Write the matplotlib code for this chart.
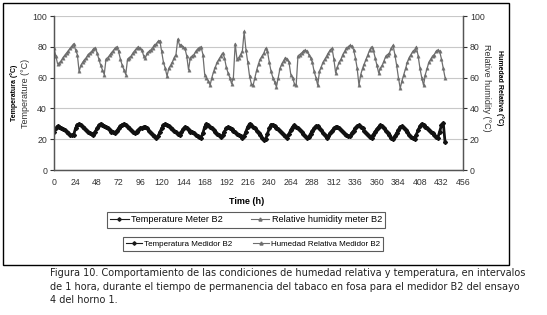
import matplotlib.pyplot as plt
from matplotlib.lines import Line2D
from matplotlib.patches import Rectangle
import numpy as np

plt.rcParams['font.family'] = ['Liberation Sans', 'DejaVu Sans']

# hours, every 2 h (0 .. 436)
hours = list(range(0, 438, 2))

temperature = [
    25, 27, 28.5, 28, 27.5, 26.5, 26, 25, 24, 23, 22.5, 23,
    27, 29.5, 30, 29, 28, 27, 26, 25, 24, 23.5, 23, 25,
    27, 29, 30, 29.5, 28.5, 28, 27, 26, 25, 24.5, 24, 25.5,
    27, 28.5, 29.5, 30, 29, 28, 27, 26, 25, 24, 25, 26,
    27, 27.5, 28, 28, 27, 25.5, 24, 23, 22, 21, 22, 24.5,
    27, 29, 30, 29.5, 28.5, 27.5, 26.5, 25.5, 24.5, 23.5, 23, 24.5,
    26.5, 28, 27.5, 26, 25, 24.5, 24, 23, 22, 21.5, 21, 24,
    28, 30, 29, 28, 27, 26, 25, 23.5, 22.5, 21.5, 22.5, 25,
    27, 28, 27.5, 26.5, 25.5, 24.5, 23.5, 23, 22, 21, 22, 25,
    28, 30, 29.5, 28, 27, 25.5, 24, 22.5, 21, 19.5, 20, 23.5,
    27, 29.5, 29.5, 28.5, 27.5, 26.5, 25.5, 24, 23, 22, 21, 23.5,
    26, 28, 29, 28, 27, 26, 25, 23.5, 22, 21, 21.5, 23.5,
    25.5, 27, 28.5, 28.5, 27.5, 26, 24, 22.5, 21, 22, 24, 25.5,
    27, 28, 28, 27.5, 26, 25, 23.5, 22.5, 22, 22, 24, 25.5,
    27, 28.5, 29, 28, 27, 25.5, 24, 22.5, 21.5, 21, 23, 25,
    26.5, 28, 29, 28.5, 27, 25.5, 24, 22.5, 21, 20, 22, 24,
    26, 28, 28.5, 27.5, 26, 24.5, 23, 21.5, 20.5, 20, 23, 26,
    28.5, 30, 29, 28, 27, 26, 25, 24, 22.5, 21.5, 21, 25,
    29, 30.5, 18,
]

humidity = [
    79, 74, 69, 69.5, 71, 73, 74.5, 76, 77.5, 79, 80.5, 82,
    78, 75, 64, 68, 70, 71.5, 73, 75, 76, 77, 78.5, 79.5,
    76, 72, 68, 65, 62, 72, 73, 74.5, 76, 77.5, 79, 80,
    77, 72, 68, 65, 62, 72, 73, 74, 76, 77.5, 79, 80,
    79, 78, 74, 73, 76, 77, 78, 79.5, 81, 82, 83.5, 84,
    77, 70, 66, 61, 66, 68, 70, 73, 75, 85, 81, 81,
    80, 79, 74, 65, 73, 74, 75, 77, 78.5, 79.5, 80, 75,
    62, 60, 58, 55, 60, 64, 67, 70, 72, 74, 76, 73,
    67, 63, 60, 56, 60, 82, 72, 73, 75, 77, 90, 78,
    70, 61, 56, 55, 60, 65, 69, 72, 74, 76, 79, 77,
    70, 64, 60, 57, 54, 60, 66, 69, 71, 73, 72, 70,
    62, 60, 56, 55, 74, 75, 76, 77, 78, 77, 75, 73,
    70, 64, 60, 55, 64, 67, 70, 72, 74, 76, 78, 79,
    72, 63, 67, 70, 72, 75, 77, 79, 80, 81, 80.5, 78,
    73, 66, 55, 62, 66, 69, 72, 75, 78, 80, 78, 73,
    68, 63, 66, 68, 71, 74, 75, 76, 79, 81, 75, 68,
    60, 53, 58, 62, 66, 70, 73, 75, 77, 78, 80, 74,
    66, 60, 55, 62, 66, 70, 72, 74, 75, 77, 78, 77,
    72, 66, 60,
]

x_ticks = list(range(0, 457, 24))
y_ticks = [0, 20, 40, 60, 80, 100]

W, H = 547, 315
fig = plt.figure(figsize=(W / 100, H / 100), dpi=100)

# outer frame around chart
fig.patches.append(Rectangle((3 / W, 1 - 265 / H), 506 / W, 262 / H,
                             transform=fig.transFigure, fill=False,
                             edgecolor='black', linewidth=1.0))

ax = fig.add_axes([54 / W, 1 - 170 / H, 409 / W, 154 / H])
ax.set_xlim(0, 456)
ax.set_ylim(0, 100)
ax.set_xticks(x_ticks)
ax.set_yticks(y_ticks)
ax.grid(axis='y', color='#c8c8c8', linewidth=0.8)
ax.set_axisbelow(True)
ax.spines['top'].set_visible(False)
for s in ['left', 'right', 'bottom']:
    ax.spines[s].set_color('#555555')
    ax.spines[s].set_linewidth(0.9)
ax.tick_params(axis='both', labelsize=6.3, colors='#333333', length=3, width=0.8,
               direction='out', pad=2)
ax.tick_params(axis='x', length=0, pad=6)

ax.plot(hours, humidity, color='#6e6e6e', linewidth=0.9, marker='^',
        markersize=2.4, markeredgewidth=0.3)
ax.plot(hours, temperature, color='#111111', linewidth=2.0, marker='D',
        markersize=2.0)

ax2 = ax.twinx()
ax2.set_ylim(0, 100)
ax2.set_yticks(y_ticks)
ax2.spines['top'].set_visible(False)
for s in ['left', 'right', 'bottom']:
    ax2.spines[s].set_color('#555555')
    ax2.spines[s].set_linewidth(0.9)
ax2.tick_params(axis='y', labelsize=6.3, colors='#333333', length=3, width=0.8, pad=2)

# axis labels
fig.text(14 / W, 1 - 93 / H, 'Temperatura (°C)', rotation=90, fontsize=5,
         fontweight='bold', ha='center', va='center')
fig.text(26 / W, 1 - 93 / H, 'Temperature (°C)', rotation=90, fontsize=6.5,
         ha='center', va='center', color='#333333')
fig.text(487 / W, 1 - 88 / H, 'Relative humidity (°C)', rotation=-90, fontsize=6.5,
         ha='center', va='center', color='#333333')
fig.text(500 / W, 1 - 88 / H, 'Humedad Relativa (°C)', rotation=-90, fontsize=5,
         fontweight='bold', ha='center', va='center')
fig.text(247 / W, 1 - 202 / H, 'Time (h)', fontsize=6.5, fontweight='bold',
         ha='center', va='center')

# legends
def handles(names):
    return [Line2D([], [], color='#1a1a1a', linewidth=0.8, marker='D', markersize=1.8),
            Line2D([], [], color='#6e6e6e', linewidth=0.8, marker='^', markersize=2.2)], names

h1, n1 = handles(['Temperature Meter B2', 'Relative humidity meter B2'])
leg1 = fig.legend(h1, n1, loc='center', bbox_to_anchor=(246 / W, 1 - 220 / H), ncol=2,
                  fontsize=6.6, frameon=True, fancybox=False, handlelength=2.0,
                  columnspacing=3.0, handletextpad=0.3, borderpad=0.35)
leg1.get_frame().set_edgecolor('#333333')
leg1.get_frame().set_linewidth(0.8)

h2, n2 = handles(['Temperatura Medidor B2', 'Humedad Relativa Medidor B2'])
leg2 = fig.legend(h2, n2, loc='center', bbox_to_anchor=(253 / W, 1 - 244 / H), ncol=2,
                  fontsize=5.8, frameon=True, fancybox=False, handlelength=2.0,
                  columnspacing=2.5, handletextpad=0.3, borderpad=0.35)
leg2.get_frame().set_edgecolor('#333333')
leg2.get_frame().set_linewidth(0.8)

caption = ('Figura 10. Comportamiento de las condiciones de humedad relativa y temperatura, en intervalos\n'
           'de 1 hora, durante el tiempo de permanencia del tabaco en fosa para el medidor B2 del ensayo\n'
           '4 del horno 1.')
fig.text(50 / W, 1 - 268 / H, caption, fontsize=7.0, family='DejaVu Sans',
         ha='left', va='top', linespacing=1.45, color='#222222')

fig.savefig('out.png', dpi=100)
